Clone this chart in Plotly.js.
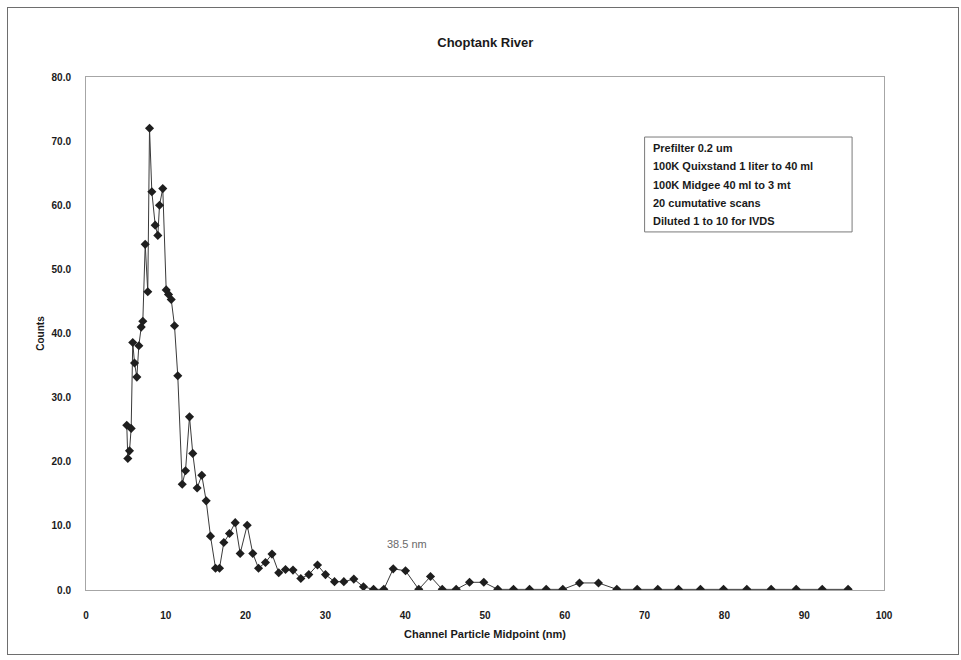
<!DOCTYPE html>
<html>
<head>
<meta charset="utf-8">
<script src="https://cdn.plot.ly/plotly-3.0.1.min.js"></script>
<style>
  html, body { margin: 0; padding: 0; background: #ffffff; }
  #wrap { position: relative; width: 961px; height: 660px; }
  #chart { position: absolute; left: 0; top: 0; width: 961px; height: 660px; }
  #frame { position: absolute; left: 7px; top: 7px; width: 950px; height: 646px;
           border: 1.5px solid #6e6e6e; pointer-events: none; }
</style>
</head>
<body>
<div id="wrap">
  <div id="chart"></div>
  <div id="frame"></div>
</div>
<script>
// Channel particle midpoints (nm)
const midpoint = [
  5.11, 5.24, 5.45, 5.66, 5.86, 6.08, 6.37, 6.62, 6.92, 7.12,
  7.42, 7.74, 7.96, 8.25, 8.67, 9.00, 9.21, 9.62, 10.05, 10.34,
  10.68, 11.09, 11.50, 12.06, 12.47, 12.97, 13.38, 13.93, 14.51, 15.06,
  15.60, 16.23, 16.73, 17.27, 17.98, 18.70, 19.32, 20.20, 20.90, 21.62,
  22.49, 23.31, 24.15, 25.00, 25.94, 26.92, 27.92, 29.01, 30.01, 31.14,
  32.31, 33.56, 34.77, 36.03, 37.32, 38.50, 40.04, 41.70, 43.17, 44.64,
  46.39, 48.06, 49.85, 51.60, 53.57, 55.58, 57.67, 59.75, 61.84, 64.22,
  66.52, 69.07, 71.65, 74.25, 77.00, 79.89, 82.81, 85.86, 89.00, 92.26,
  95.50
];

// Counts per channel
const counts = [
  25.7, 20.5, 21.7, 25.2, 38.6, 35.4, 33.2, 38.1, 41.0, 41.9,
  53.9, 46.5, 72.0, 62.1, 56.9, 55.3, 60.0, 62.6, 46.8, 46.1,
  45.3, 41.2, 33.4, 16.5, 18.6, 27.0, 21.3, 15.9, 17.9, 13.9,
  8.4, 3.4, 3.4, 7.4, 8.8, 10.5, 5.7, 10.1, 5.7, 3.4,
  4.3, 5.6, 2.7, 3.2, 3.1, 1.8, 2.4, 3.9, 2.4, 1.3,
  1.3, 1.7, 0.5, 0.1, 0.1, 3.3, 3.0, 0.1, 2.1, 0.1,
  0.1, 1.2, 1.2, 0.1, 0.1, 0.1, 0.1, 0.1, 1.1, 1.1,
  0.1, 0.1, 0.1, 0.1, 0.1, 0.1, 0.1, 0.1, 0.1, 0.1,
  0.1
];

// Sample preparation notes shown in the boxed legend
const notes = [
  "Prefilter 0.2 um",
  "100K Quixstand 1 liter to 40 ml",
  "100K Midgee 40 ml to 3 mt",
  "20 cumutative scans",
  "Diluted 1 to 10 for IVDS"
];

const peakLabel = "38.5 nm";
const FONT = "Liberation Sans, Arial, sans-serif";

const trace = {
  x: midpoint,
  y: counts,
  type: "scatter",
  mode: "lines+markers",
  line: { color: "#3a3a3a", width: 1 },
  marker: { symbol: "diamond", size: 7, color: "#1e1e1e" },
  hoverinfo: "x+y",
  showlegend: false
};

// Boxed notes: one annotation per line inside a rectangle
const noteTop = 0.862, noteStep = 0.0358;
const annotations = notes.map((t, i) => ({
  xref: "paper", yref: "paper",
  x: 0.708, y: noteTop - i * noteStep,
  xanchor: "left", yanchor: "middle",
  text: "<b>" + t + "</b>",
  showarrow: false,
  font: { family: FONT, size: 11, color: "#1a1a1a" }
}));

annotations.push({
  xref: "x", yref: "y",
  x: 40.2, y: 7.2,
  text: peakLabel,
  showarrow: false,
  font: { family: FONT, size: 11, color: "#6a6a6a" }
});

const layout = {
  width: 961,
  height: 660,
  margin: { l: 86, r: 77, t: 77, b: 70 },
  paper_bgcolor: "#ffffff",
  plot_bgcolor: "#ffffff",
  font: { family: FONT, color: "#1a1a1a" },
  title: {
    text: "<b>Choptank River</b>",
    font: { family: FONT, size: 13, color: "#1a1a1a" },
    xref: "container", yref: "container",
    x: 0.505, y: 0.935, xanchor: "center", yanchor: "middle"
  },
  xaxis: {
    range: [0, 100],
    dtick: 10,
    tick0: 0,
    showgrid: false,
    zeroline: false,
    showline: true,
    linecolor: "#a6a6a6",
    linewidth: 1,
    mirror: true,
    ticks: "",
    ticklabelstandoff: 16,
    tickfont: { family: FONT, size: 10, color: "#1a1a1a", weight: "bold" },
    title: {
      text: "<b>Channel Particle Midpoint (nm)</b>",
      font: { family: FONT, size: 11, color: "#1a1a1a" },
      standoff: 10
    }
  },
  yaxis: {
    range: [0, 80],
    dtick: 10,
    tick0: 0,
    tickformat: ".1f",
    showgrid: false,
    zeroline: true,
    zerolinecolor: "#9fae8c",
    zerolinewidth: 1,
    showline: true,
    linecolor: "#a6a6a6",
    linewidth: 1,
    mirror: true,
    ticks: "",
    ticklabelstandoff: 12,
    tickfont: { family: FONT, size: 10, color: "#1a1a1a", weight: "bold" },
    title: {
      text: "<b>Counts</b>",
      font: { family: FONT, size: 10, color: "#1a1a1a" },
      standoff: 5
    }
  },
  shapes: [{
    type: "rect",
    xref: "paper", yref: "paper",
    x0: 0.7, x1: 0.96, y0: 0.698, y1: 0.883,
    line: { color: "#7a7a7a", width: 1 },
    fillcolor: "rgba(255,255,255,0)"
  }],
  annotations: annotations
};

Plotly.newPlot("chart", [trace], layout, { displayModeBar: false, staticPlot: true });
</script>
</body>
</html>
